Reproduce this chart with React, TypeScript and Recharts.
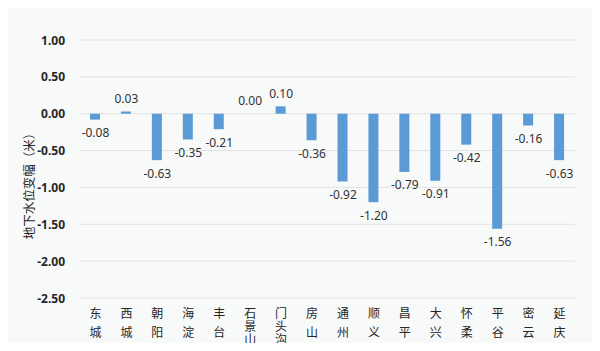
import React from "react";
import { ComposedChart, Bar, Line, XAxis, YAxis, CartesianGrid } from "recharts";

const districts = ["东城", "西城", "朝阳", "海淀", "丰台", "石景山", "门头沟", "房山", "通州", "顺义", "昌平", "大兴", "怀柔", "平谷", "密云", "延庆"];
const changes = [-0.08, 0.03, -0.63, -0.35, -0.21, 0.0, 0.1, -0.36, -0.92, -1.2, -0.79, -0.91, -0.42, -1.56, -0.16, -0.63];
const yTicks = [1.0, 0.5, 0.0, -0.5, -1.0, -1.5, -2.0, -2.5];
const yTitle = "地下水位变幅（米）";

const data = districts.map((d, i) => ({ name: d, value: changes[i] }));

const XTick = (props: any) => {
  const { x, y, payload } = props;
  const chars: string[] = Array.from(String(payload.value));
  const step = chars.length > 2 ? 13 : 19;
  return (
    <g>
      {chars.map((c, i) => (
        <text
          key={i}
          x={x}
          y={y + 6 + i * step}
          textAnchor="middle"
          dominantBaseline="central"
          fontSize={12}
          fill="#262626"
          fontFamily="'Noto Sans CJK SC', sans-serif"
        >
          {c}
        </text>
      ))}
    </g>
  );
};

const YTick = (props: any) => {
  const { x, y, payload } = props;
  return (
    <text
      x={x}
      y={y}
      textAnchor="end"
      dominantBaseline="central"
      fontSize={12}
      fontWeight="bold"
      fill="#262626"
      fontFamily="'Noto Sans', sans-serif"
    >
      {Number(payload.value).toFixed(2)}
    </text>
  );
};

const ValueLabel = (props: any) => {
  const { x, y, value } = props;
  const ly = value >= 0 ? y - 13 : y + 13;
  return (
    <text
      x={x}
      y={ly}
      textAnchor="middle"
      dominantBaseline="central"
      fontSize={12}
      fill="#333"
      fontFamily="'Noto Sans', sans-serif"
    >
      {Number(value).toFixed(2)}
    </text>
  );
};

const TitleLabel = () => (
  <text
    transform="translate(27,182) rotate(-90)"
    textAnchor="middle"
    dominantBaseline="central"
    fontSize={12.5}
    fill="#262626"
    fontFamily="'Noto Sans CJK SC', sans-serif"
  >
    {yTitle}
  </text>
);

export default function App() {
  return (
    <div style={{ margin: -8, width: 600, height: 351, position: "relative", background: "#f8f9f9", boxSizing: "border-box", border: "1px solid #d4d4d4" }}>
      <ComposedChart
        width={598}
        height={349}
        data={data}
        margin={{ top: 39, right: 24, bottom: 0, left: 0 }}
        barCategoryGap={0}
      >
        <CartesianGrid vertical={false} stroke="#e2e2e2" />
        <XAxis
          dataKey="name"
          axisLine={false}
          tickLine={false}
          interval={0}
          height={52}
          tick={<XTick />}
        />
        <YAxis
          domain={[-2.5, 1.0]}
          ticks={yTicks}
          axisLine={false}
          tickLine={false}
          width={79}
          tickSize={0}
          tickMargin={15}
          tick={<YTick />}
          label={<TitleLabel />}
        />
        <Bar dataKey="value" fill="#5b9bd5" barSize={10} isAnimationActive={false} />
        <Line
          dataKey="value"
          stroke="none"
          dot={false}
          activeDot={false}
          isAnimationActive={false}
          label={<ValueLabel />}
        />
      </ComposedChart>
    </div>
  );
}
